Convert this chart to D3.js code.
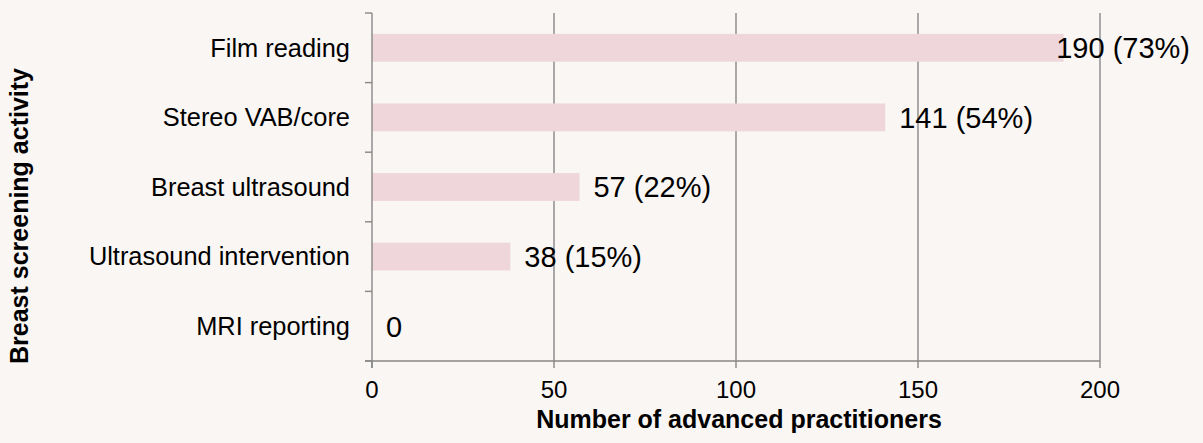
<html>
<head>
<meta charset="utf-8">
<title>breast screening activity</title>
<script src="https://cdn.jsdelivr.net/npm/d3@7"></script>
<style>
  html, body { margin: 0; padding: 0; background: #faf6f3; }
  svg text { font-family: 'Liberation Sans', Arial, sans-serif; fill: #000; }
  .cat { font-size: 25.4px; }
  .tick-lbl { font-size: 24px; }
  .val { font-size: 29px; }
  .title { font-size: 25px; font-weight: bold; }
</style>
</head>
<body>
<div id="chart"></div>
<script>
// data
var activities = ['Film reading', 'Stereo VAB/core', 'Breast ultrasound', 'Ultrasound intervention', 'MRI reporting'];
var counts = [190, 141, 57, 38, 0];
var labels = ['190 (73%)', '141 (54%)', '57 (22%)', '38 (15%)', '0'];
var xTicks = [0, 50, 100, 150, 200];

var W = 1203, H = 443;
// plot box (note: "top" is taken by window.top, so use plot*)
var plotL = 372, plotR = 1100, plotT = 13, plotB = 361;

var svg = d3.select('#chart').append('svg')
  .attr('width', W)
  .attr('height', H);

svg.append('rect').attr('width', W).attr('height', H).attr('fill', '#faf6f3');

var x = d3.scaleLinear().domain([0, 200]).range([plotL, plotR]);

// bands for tick marks, padded band for bars
var yb = d3.scaleBand().domain(activities).range([plotT, plotB]).padding(0);
var y = d3.scaleBand().domain(activities).range([plotT, plotB])
  .paddingInner(0.6).paddingOuter(0.3);

var axisColor = '#878787';

// gridlines
svg.selectAll('.grid').data(xTicks.slice(1)).enter().append('line')
  .attr('x1', function(d) { return x(d); })
  .attr('x2', function(d) { return x(d); })
  .attr('y1', plotT).attr('y2', plotB)
  .attr('stroke', axisColor).attr('stroke-width', 1.4);

// bars
svg.selectAll('.bar').data(activities).enter().append('rect')
  .attr('x', x(0))
  .attr('y', function(d) { return y(d); })
  .attr('width', function(d, i) { return x(counts[i]) - x(0); })
  .attr('height', y.bandwidth())
  .attr('fill', '#efd6db');

// y axis line + ticks
svg.append('line')
  .attr('x1', plotL).attr('x2', plotL).attr('y1', plotT).attr('y2', plotB + 7)
  .attr('stroke', axisColor).attr('stroke-width', 1.4);
var yEdges = activities.map(function(d) { return yb(d); }).concat([plotB]);
svg.selectAll('.ytick').data(yEdges).enter().append('line')
  .attr('x1', plotL - 7).attr('x2', plotL)
  .attr('y1', function(d) { return d; }).attr('y2', function(d) { return d; })
  .attr('stroke', axisColor).attr('stroke-width', 1.4);

// x axis line + ticks
svg.append('line')
  .attr('x1', plotL - 7).attr('x2', plotR).attr('y1', plotB).attr('y2', plotB)
  .attr('stroke', axisColor).attr('stroke-width', 1.4);
svg.selectAll('.xtick').data(xTicks).enter().append('line')
  .attr('x1', function(d) { return x(d); }).attr('x2', function(d) { return x(d); })
  .attr('y1', plotB).attr('y2', plotB + 7)
  .attr('stroke', axisColor).attr('stroke-width', 1.4);

svg.selectAll('.xlbl').data(xTicks).enter().append('text')
  .attr('class', 'tick-lbl')
  .attr('x', function(d) { return x(d); })
  .attr('y', 398)
  .attr('text-anchor', 'middle')
  .text(function(d) { return d; });

// category labels
svg.selectAll('.cat').data(activities).enter().append('text')
  .attr('class', 'cat')
  .attr('x', 350)
  .attr('y', function(d) { return yb(d) + yb.bandwidth() / 2; })
  .attr('dy', '0.35em')
  .attr('text-anchor', 'end')
  .text(function(d) { return d; });

// value labels
svg.selectAll('.val').data(activities).enter().append('text')
  .attr('class', 'val')
  .attr('y', function(d) { return y(d) + y.bandwidth() / 2; })
  .attr('dy', '0.36em')
  .text(function(d, i) { return labels[i]; })
  .attr('x', function(d, i) {
    var px = x(counts[i]) + 14;
    var w = this.getComputedTextLength();
    if (px + w > 1190) px = 1190 - w;
    return px;
  });

// axis titles
svg.append('text')
  .attr('class', 'title')
  .attr('x', (plotL + plotR) / 2 + 3)
  .attr('y', 428)
  .attr('text-anchor', 'middle')
  .text('Number of advanced practitioners');

svg.append('text')
  .attr('class', 'title')
  .attr('transform', 'translate(28,' + ((plotT + plotB) / 2 + 29) + ') rotate(-90)')
  .attr('text-anchor', 'middle')
  .text('Breast screening activity');
</script>
</body>
</html>
